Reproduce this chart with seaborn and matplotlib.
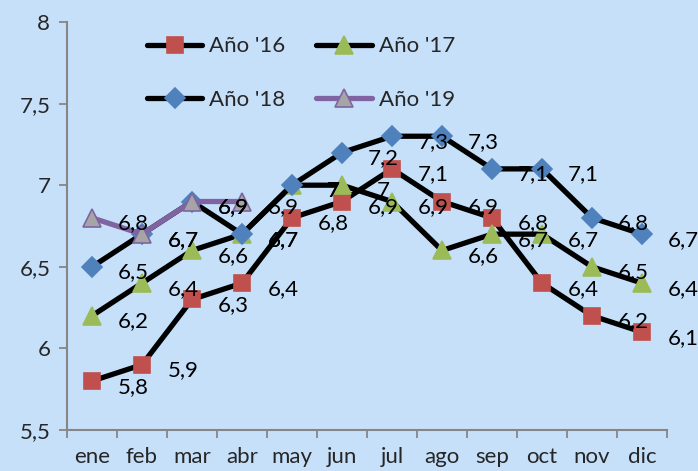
import numpy as np
import pandas as pd
import matplotlib
matplotlib.use("Agg")
import matplotlib.pyplot as plt
from matplotlib.ticker import FuncFormatter, FixedLocator
import seaborn as sns

meses = ["ene", "feb", "mar", "abr", "may", "jun", "jul", "ago", "sep", "oct", "nov", "dic"]
anio_16 = [5.8, 5.9, 6.3, 6.4, 6.8, 6.9, 7.1, 6.9, 6.8, 6.4, 6.2, 6.1]
anio_17 = [6.2, 6.4, 6.6, 6.7, 7.0, 7.0, 6.9, 6.6, 6.7, 6.7, 6.5, 6.4]
anio_18 = [6.5, 6.7, 6.9, 6.7, 7.0, 7.2, 7.3, 7.3, 7.1, 7.1, 6.8, 6.7]
anio_19 = [6.8, 6.7, 6.9, 6.9]
series_names = ["Año '16", "Año '17", "Año '18", "Año '19"]

bg = "#C6E0FA"
sns.set_theme(style="white", rc={"axes.facecolor": bg, "figure.facecolor": bg})
plt.rcParams["font.family"] = ["Lato", "DejaVu Sans"]
fs = 16


def coma(v):
    return f"{v:g}".replace(".", ",")


rows = []
for name, vals in zip(series_names, [anio_16, anio_17, anio_18, anio_19]):
    for i, v in enumerate(vals):
        rows.append({"serie": name, "pos": i, "valor": v})
df = pd.DataFrame(rows)

styles = {
    "Año '16": dict(color="black", marker="s", markerfacecolor="#C0504D", markeredgecolor="#C0504D", markersize=12),
    "Año '17": dict(color="black", marker="^", markerfacecolor="#9BBB59", markeredgecolor="#9BBB59", markersize=13),
    "Año '18": dict(color="black", marker="D", markerfacecolor="#4F81BD", markeredgecolor="#4F81BD", markersize=10),
    "Año '19": dict(color="#8064A2", marker="^", markerfacecolor="#A5A5A5", markeredgecolor="#8064A2", markersize=13),
}

fig = plt.figure(figsize=(6.98, 4.71), dpi=100)
ax = fig.add_axes([67/698, 41/471, 600/698, 408/471])

for name in series_names:
    sub = df[df["serie"] == name]
    sns.lineplot(data=sub, x="pos", y="valor", ax=ax, linewidth=3.8, label=name,
                 markeredgewidth=1.2, **styles[name])

# etiquetas de datos
for name in series_names:
    sub = df[df["serie"] == name]
    for x, y in zip(sub["pos"], sub["valor"]):
        ax.annotate(coma(y), (x, y), xytext=(30, -4),
                    textcoords="offset points", ha="center", va="center",
                    fontsize=fs, color="black", zorder=10)

ax.set_xlim(-0.5, 11.5)
ax.set_ylim(5.5, 8)
ax.set_yticks([5.5, 6, 6.5, 7, 7.5, 8])
ax.yaxis.set_major_formatter(FuncFormatter(lambda v, p: coma(v)))
ax.set_xticks(range(12))
ax.set_xticklabels(meses)
ax.xaxis.set_minor_locator(FixedLocator(np.arange(-0.5, 12, 1)))
ax.tick_params(axis="x", which="major", length=0, labelsize=fs, pad=12)
ax.tick_params(axis="x", which="minor", bottom=True, length=6, width=1.3, color="#868686")
ax.tick_params(axis="y", left=True, length=6, width=1.3, color="#868686", labelsize=fs, pad=6)
ax.set_xlabel("")
ax.set_ylabel("")

for s in ["top", "right"]:
    ax.spines[s].set_visible(False)
for s in ["left", "bottom"]:
    ax.spines[s].set_color("#868686")
    ax.spines[s].set_linewidth(1.5)

# matplotlib llena la leyenda por columnas: reordenar para que quede por filas
handles, labels = ax.get_legend_handles_labels()
order = [0, 2, 1, 3]
ax.legend([handles[i] for i in order], [labels[i] for i in order],
          loc="upper left", bbox_to_anchor=(0.133, 0.965), ncol=2, frameon=False,
          fontsize=fs, handlelength=2.5, handletextpad=0.3, columnspacing=1.4,
          labelspacing=1.5, borderpad=0, borderaxespad=0)

fig.savefig("out.png", dpi=100, facecolor=bg)
